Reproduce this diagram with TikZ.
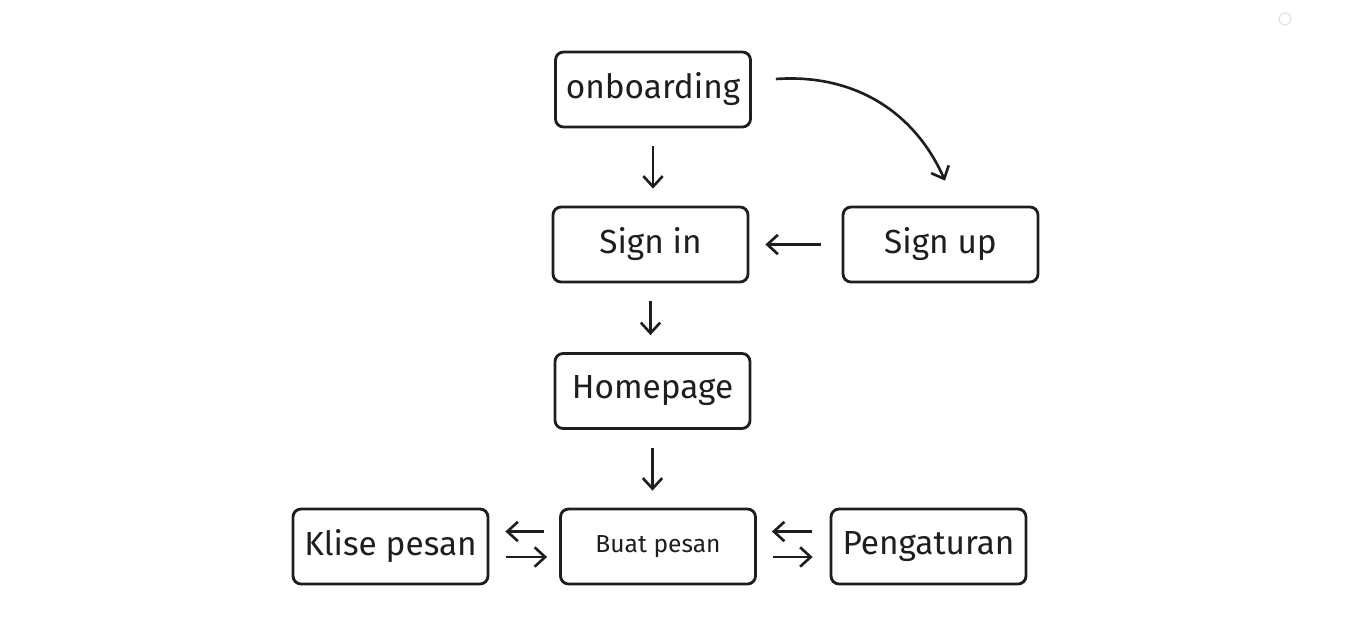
\documentclass[tikz,border=0pt]{standalone}
\usepackage{fontspec}
\setmainfont{Fira Sans}
\usetikzlibrary{arrows.meta}
\definecolor{ink}{HTML}{1E1E1E}
\begin{document}
\begin{tikzpicture}
  [x=0.02cm,y=-0.02cm,
   every node/.style={draw=ink,line width=1.6pt,rounded corners=0.16cm,
     minimum width=3.9cm,minimum height=1.5cm,text=ink,font=\fontsize{19}{21}\selectfont},
   flow/.style={draw=ink,line width=1.5pt,-{Straight Barb[length=6pt,width=11pt]}}]
  \useasboundingbox (0,0) rectangle (1366,629);
  \draw[black!10,line width=0.8pt] (1285,19) circle (6);

  \node (onboard) at (653,89.5)  {onboarding};
  \node (signin)  at (650.5,244.5) {Sign in};
  \node (signup)  at (940.5,244.5) {Sign up};
  \node (home)    at (652.5,391)  {Homepage};
  \node (buat)    at (658,546.5)  [font=\fontsize{14}{16}\selectfont] {Buat pesan};
  \node (klise)   at (390.5,546.5) {Klise pesan};
  \node (atur)    at (928.5,546.5) {Pengaturan};

  \foreach \from/\to in {onboard/signin,signin/home,home/buat}
    \draw[flow,shorten <=0.36cm,shorten >=0.34cm] (\from.south) -- (\from.south |- \to.north);
  \draw[flow,shorten <=0.42cm,shorten >=0.32cm] (signup) -- (signin);
  \draw[flow] ([xshift=0.48cm,yshift=0.21cm]onboard.east)
    to[bend left=35] ([xshift=0.09cm,yshift=0.5cm]signup.north);

  % pairs of arrows at the bottom
  \draw[flow] ([xshift=-0.3cm,yshift=0.3cm]buat.west) -- ([xshift=0.32cm,yshift=0.3cm]klise.east);
  \draw[flow] ([xshift=0.34cm,yshift=-0.21cm]klise.east) -- ([xshift=-0.24cm,yshift=-0.21cm]buat.west);
  \draw[flow] ([xshift=-0.36cm,yshift=0.3cm]atur.west) -- ([xshift=0.3cm,yshift=0.3cm]buat.east);
  \draw[flow] ([xshift=0.32cm,yshift=-0.21cm]buat.east) -- ([xshift=-0.34cm,yshift=-0.21cm]atur.west);
\end{tikzpicture}
\end{document}
